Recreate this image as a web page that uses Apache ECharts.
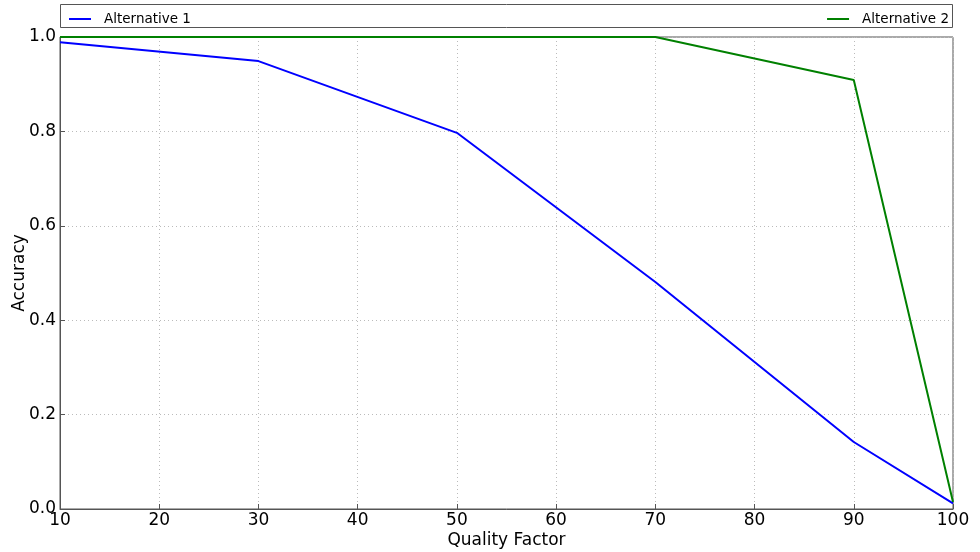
<!DOCTYPE html>
<html>
<head>
<meta charset="utf-8">
<script src="https://cdn.jsdelivr.net/npm/echarts@6/dist/echarts.min.js"></script>
<style>
    html, body { margin: 0; padding: 0; background: #fff; }
    #chart { width: 980px; height: 552px; }
</style>
</head>
<body>
<div id="chart"></div>
<script>
// quality factor values along the x axis
var qualityFactors = [10, 30, 50, 70, 90, 100];
// accuracy per alternative
var alternative1 = [0.989, 0.949, 0.797, 0.481, 0.142, 0.012];
var alternative2 = [1.0, 1.0, 1.0, 1.0, 0.909, 0.015];
var seriesNames = ['Alternative 1', 'Alternative 2'];

function pairs(xs, ys) {
    var out = [];
    for (var i = 0; i < xs.length; i++) {
        out.push([xs[i], ys[i]]);
    }
    return out;
}

var myChart = echarts.init(document.getElementById('chart'));
var font = 'DejaVu Sans';

var option = {
    animation: false,
    textStyle: { fontFamily: font },
    grid: {
        left: 60, right: 27, top: 37, bottom: 43,
        outerBoundsMode: 'none',
        containLabel: false,
        show: true,
        borderColor: '#555',
        borderWidth: 1
    },
    graphic: [{
        type: 'rect',
        shape: { x: 60.5, y: 4.5, width: 892, height: 23 },
        style: { fill: '#fff', stroke: '#555', lineWidth: 1 },
        z: 0
    }],
    legend: [{
        data: [seriesNames[0]],
        left: 64, top: 7,
        itemWidth: 22, itemHeight: 2,
        icon: 'rect',
        textStyle: { fontFamily: font, fontSize: 13.5, color: '#000', padding: [0, 0, 0, 8] }
    }, {
        data: [seriesNames[1]],
        right: 26, top: 7,
        itemWidth: 22, itemHeight: 2,
        icon: 'rect',
        textStyle: { fontFamily: font, fontSize: 13.5, color: '#000', padding: [0, 0, 0, 8] }
    }],
    xAxis: {
        type: 'value',
        min: 10, max: 100, interval: 10,
        name: 'Quality Factor',
        nameLocation: 'middle',
        nameGap: 23,
        nameMoveOverlap: false,
        nameTextStyle: { fontSize: 17, color: '#000', fontFamily: font },
        axisLine: { show: true, lineStyle: { color: '#555' } },
        axisTick: { show: true, inside: true, length: 5, lineStyle: { color: '#555' } },
        axisLabel: { fontSize: 17, color: '#000', margin: 3, fontFamily: font },
        splitLine: { show: true, lineStyle: { color: '#bbb', type: [1, 3] } }
    },
    yAxis: {
        type: 'value',
        min: 0, max: 1, interval: 0.2,
        name: 'Accuracy',
        nameLocation: 'middle',
        nameGap: 32,
        nameMoveOverlap: false,
        nameTextStyle: { fontSize: 17, color: '#000', fontFamily: font },
        axisLine: { show: true, lineStyle: { color: '#555' } },
        axisTick: { show: true, inside: true, length: 5, lineStyle: { color: '#555' } },
        axisLabel: {
            fontSize: 17, color: '#000', margin: 4, fontFamily: font,
            formatter: function (v) { return v.toFixed(1); }
        },
        splitLine: { show: true, lineStyle: { color: '#bbb', type: [1, 3] } }
    },
    series: [{
        name: seriesNames[0],
        type: 'line',
        data: pairs(qualityFactors, alternative1),
        showSymbol: false,
        color: '#0000ff',
        lineStyle: { width: 2, color: '#0000ff' },
        z: 3
    }, {
        name: seriesNames[1],
        type: 'line',
        data: pairs(qualityFactors, alternative2),
        showSymbol: false,
        color: '#008000',
        lineStyle: { width: 2, color: '#008000' },
        z: 4
    }]
};

myChart.setOption(option, true);
window.addEventListener('resize', function () {
    myChart.resize();
});
</script>
</body>
</html>
